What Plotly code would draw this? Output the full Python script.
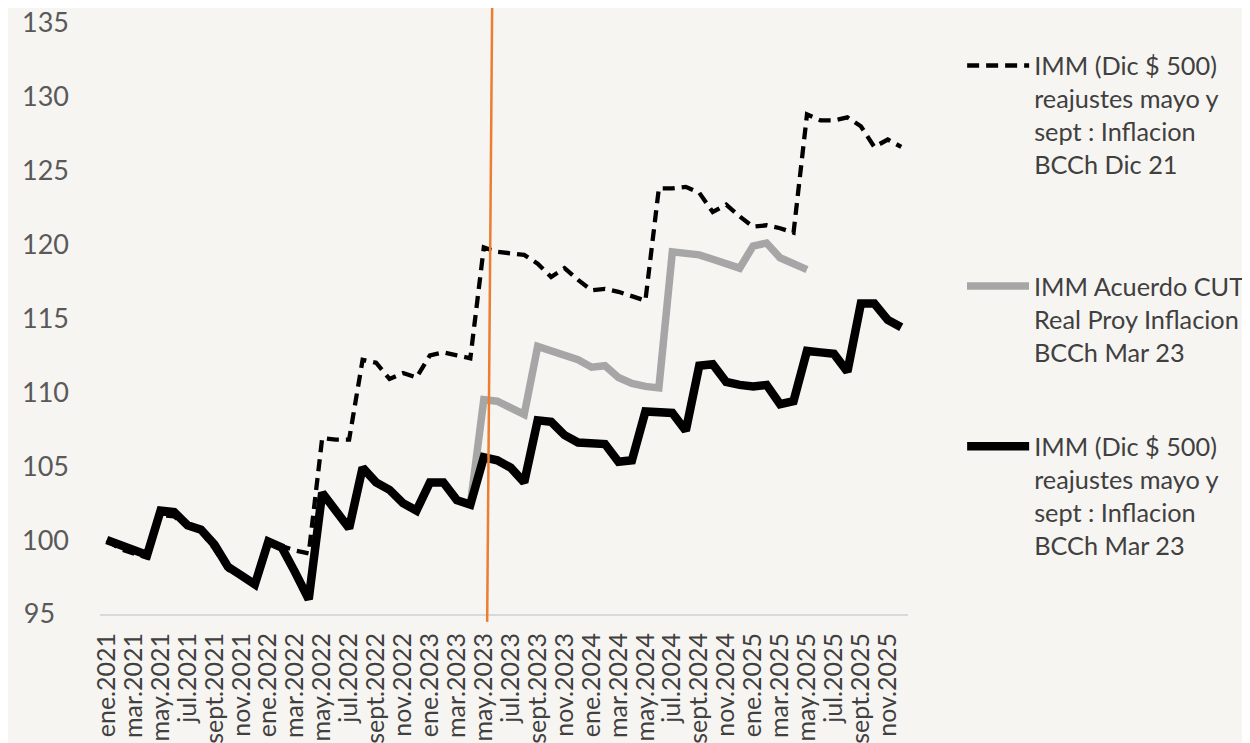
import plotly.graph_objects as go

# ---------------- data ----------------
MONTH_NAMES = ["ene", "feb", "mar", "abr", "may", "jun", "jul", "ago", "sept", "oct", "nov", "dic"]
YEARS = [2021, 2022, 2023, 2024, 2025]
CATEGORIES = [f"{m}.{y}" for y in YEARS for m in MONTH_NAMES]
TICK_LABELS = CATEGORIES[::2]

# IMM (Dic $ 500) reajustes mayo y sept : Inflacion BCCh Dic 21
IMM_DIC21 = [
    100.0, 99.4, 99.1, 98.8, 101.7, 101.6, 100.9, 100.6, 99.4, 98.0, 97.6, 97.0,
    99.8, 99.6, 99.3, 99.1, 106.9, 106.8, 106.8, 112.2, 112.0, 110.9, 111.3, 111.0,
    112.5, 112.7, 112.5, 112.3, 119.8, 119.5, 119.4, 119.3, 118.7, 117.8, 118.4, 117.6,
    116.9, 117.0, 116.8, 116.5, 116.2, 123.8, 123.8, 123.9, 123.5, 122.2, 122.7, 121.9,
    121.2, 121.3, 121.1, 120.8, 128.8, 128.4, 128.4, 128.6, 128.0, 126.6, 127.1, 126.6,
]

# IMM Acuerdo CUT Real Proy Inflacion BCCh Mar 23 (mar.2023 - may.2025)
IMM_CUT = [None] * 27 + [
    102.4, 109.5, 109.4, 109.0, 108.5, 113.1, 112.8, 112.5, 112.2, 111.7, 111.8, 111.0,
    110.6, 110.4, 110.3, 119.5, 119.4, 119.3, 119.0, 118.7, 118.4, 119.9, 120.1, 119.1,
    118.7, 118.3,
] + [None] * 7

# IMM (Dic $ 500) reajustes mayo y sept : Inflacion BCCh Mar 23
IMM_MAR23 = [
    100.0, 99.7, 99.35, 99.0, 102.0, 101.9, 101.0, 100.7, 99.7, 98.2, 97.6, 97.0,
    99.9, 99.5, 97.8, 96.0, 103.2, 102.0, 100.8, 104.9, 103.9, 103.4, 102.5, 102.0,
    103.9, 103.9, 102.7, 102.4, 105.6, 105.4, 104.9, 103.9, 108.1, 108.0, 107.1, 106.6,
    106.55, 106.5, 105.3, 105.4, 108.7, 108.7, 108.6, 107.4, 111.8, 111.9, 110.7, 110.5,
    110.4, 110.5, 109.2, 109.4, 112.8, 112.7, 112.6, 111.4, 116.0, 116.0, 114.9, 114.4,
]

SERIES_NAMES = [
    "IMM (Dic $ 500)<br>reajustes mayo y<br>sept : Inflacion<br>BCCh Dic 21",
    "IMM Acuerdo CUT<br>Real Proy Inflacion<br>BCCh Mar 23",
    "IMM (Dic $ 500)<br>reajustes mayo y<br>sept : Inflacion<br>BCCh Mar 23",
]

Y_TICKS = [95, 100, 105, 110, 115, 120, 125, 130, 135]
Y_TICK_TEXT = ["95\u00a0\u00a0", "100", "105", "110", "115", "120", "125", "130", "135"]
MARKER_MONTH = "may.2023"

# ---------------- figure ----------------
BG = "#F7F5F2"
FONT = "Lato"

fig = go.Figure()
fig.add_trace(go.Scatter(
    x=CATEGORIES, y=IMM_DIC21, name=SERIES_NAMES[0], mode="lines",
    line=dict(color="#000000", width=4.3, dash="12px,7px"), legend="legend",
))
fig.add_trace(go.Scatter(
    x=CATEGORIES, y=IMM_CUT, name=SERIES_NAMES[1], mode="lines",
    line=dict(color="#A6A6A6", width=7.5), legend="legend2",
))
fig.add_trace(go.Scatter(
    x=CATEGORIES, y=IMM_MAR23, name=SERIES_NAMES[2], mode="lines",
    line=dict(color="#000000", width=8.5), legend="legend3",
))

marker_idx = CATEGORIES.index(MARKER_MONTH)
fig.add_shape(
    type="line", xref="x", yref="paper",
    x0=marker_idx + 0.25, y0=-0.013, x1=marker_idx + 0.62, y1=1.0,
    line=dict(color="#ED7D31", width=2.5), layer="above",
)

legend_common = dict(
    xanchor="left", yanchor="top", bgcolor="rgba(0,0,0,0)",
    font=dict(family=FONT, size=25.3, color="#404040"),
    itemwidth=62, valign="top", borderwidth=0,
)

fig.update_layout(
    width=1242, height=735,
    margin=dict(l=92, r=337, t=0, b=129),
    paper_bgcolor=BG, plot_bgcolor=BG,
    showlegend=True,
    legend=dict(x=1.067, y=0.943, **legend_common),
    legend2=dict(x=1.067, y=0.579, **legend_common),
    legend3=dict(x=1.067, y=0.3145, **legend_common),
    xaxis=dict(
        type="category", categoryorder="array", categoryarray=CATEGORIES,
        range=[-0.5, len(CATEGORIES) - 0.5],
        tickmode="array", tickvals=TICK_LABELS, ticktext=TICK_LABELS,
        tickangle=-90, tickfont=dict(family=FONT, size=25, color="#404040"),
        showline=True, linecolor="#D9D9D9", linewidth=2,
        showgrid=False, zeroline=False, ticks="", automargin=False,
        ticklabelstandoff=7,
    ),
    yaxis=dict(
        range=[95, 136.0], tickmode="array", tickvals=Y_TICKS, ticktext=Y_TICK_TEXT,
        tickfont=dict(family=FONT, size=27, color="#595959"),
        showgrid=False, zeroline=False, showline=False, ticks="",
        ticklabelstandoff=30, automargin=False, ticklabeloverflow="allow",
    ),
)

fig.write_html("out.html")
